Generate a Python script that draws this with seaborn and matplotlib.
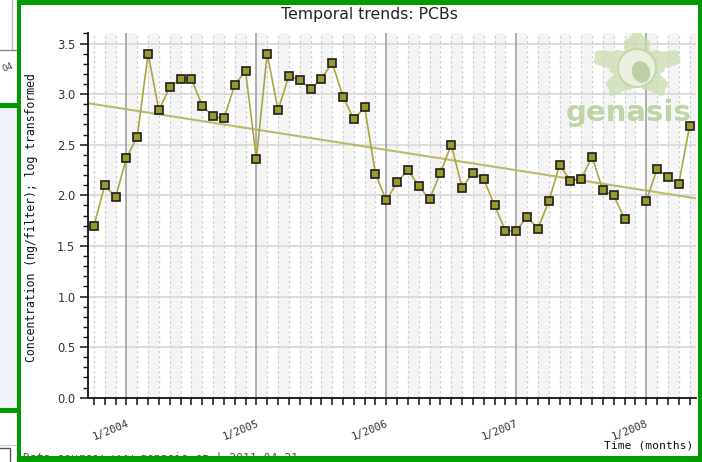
import numpy as np
import pandas as pd
import matplotlib
matplotlib.use("Agg")
import matplotlib.pyplot as plt
import seaborn as sns
from matplotlib.patches import Rectangle, Polygon, Circle, Ellipse
from matplotlib.ticker import MultipleLocator, FixedLocator

# ---------------- data ----------------
months = ["2003-10", "2003-11", "2003-12",
          "2004-01", "2004-02", "2004-03", "2004-04", "2004-05", "2004-06",
          "2004-07", "2004-08", "2004-09", "2004-10", "2004-11", "2004-12",
          "2005-01", "2005-02", "2005-03", "2005-04", "2005-05", "2005-06",
          "2005-07", "2005-08", "2005-09", "2005-10", "2005-11", "2005-12",
          "2006-01", "2006-02", "2006-03", "2006-04", "2006-05", "2006-06",
          "2006-07", "2006-08", "2006-09", "2006-10", "2006-11", "2006-12",
          "2007-01", "2007-02", "2007-03", "2007-04", "2007-05", "2007-06",
          "2007-07", "2007-08", "2007-09", "2007-10", "2007-11", "2007-12",
          "2008-01", "2008-02", "2008-03", "2008-04", "2008-05"]
pcb = [1.70, 2.10, 1.98,
       2.37, 2.58, 3.40, 2.84, 3.07, 3.15, 3.15, 2.885, 2.78, 2.76, 3.09, 3.23,
       2.36, 3.40, 2.84, 3.18, 3.14, 3.05, 3.15, 3.31, 2.975, 2.75, 2.87, 2.21,
       1.95, 2.13, 2.25, 2.09, 1.96, 2.225, 2.50, 2.075, 2.225, 2.16, 1.90, 1.65,
       1.65, 1.79, 1.67, 1.94, 2.30, 2.145, 2.16, 2.38, 2.05, 2.00, 1.77, np.nan,
       1.94, 2.26, 2.18, 2.11, 2.68]
trend_start = 2.91   # trend value at left edge of axis
trend_end = 1.97     # trend value at right edge of axis
year_labels = ["1/2004", "1/2005", "1/2006", "1/2007", "1/2008"]
title = "Temporal trends: PCBs"
ylabel = "Concentration (ng/filter); log transformed"
xlabel = "Time (months)"
source = "Data source: www.genasis.cz | 2011-04-21"

# ---------------- prep ----------------
per = pd.PeriodIndex(months, freq="M")
midx = (per.year - 2004) * 12 + (per.month - 1)
df = pd.DataFrame({"m": midx, "v": pcb})
df["seg"] = df["v"].isna().cumsum()
df = df.dropna()

XMIN, XMAX = -3.55, 52.6
trend_df = pd.DataFrame({"m": [XMIN, XMAX], "v": [trend_start, trend_end]})

sns.set_style("white")
plt.rcParams["font.family"] = ["DejaVu Sans"]

W, H = 702, 462
fig = plt.figure(figsize=(W / 100, H / 100), dpi=100)
fig.patch.set_facecolor("white")

L, R, T, B = 88, 696, 33.4, 397.7
ax = fig.add_axes([L / W, 1 - B / H, (R - L) / W, (B - T) / H])
ax.set_facecolor("white")
ax.set_xlim(XMIN, XMAX)
ax.set_ylim(0, 3.6)

# overlay in pixel coords
ov = fig.add_axes([0, 0, 1, 1], zorder=10)
ov.set_xlim(0, W)
ov.set_ylim(H, 0)
ov.axis("off")
ov.patch.set_alpha(0)

# background bands (alternate months)
for m in range(-2, 53, 2):
    ax.axvspan(m, m + 1, color="#f4f4f4", lw=0, zorder=0)
# monthly dashed grid
for m in range(-3, 53):
    if m % 12 == 0:
        ax.axvline(m, color="#9a9a9a", lw=1.1, zorder=0.6)
    else:
        ax.axvline(m, color="#cfcfcf", lw=0.9, ls=(0, (2, 2)), zorder=0.5)
for yv in np.arange(0.5, 3.6, 0.5):
    ax.axhline(yv, color="#dcdcdc", lw=1.4, zorder=0.4)

# logo watermark (pixel coords)
cx, cy = 637, 66
th = np.linspace(0, 2 * np.pi, 200)
r = 0.78 + 0.22 * np.cos(5 * (th - np.pi / 2)) + 0.05 * np.cos(17 * (th - np.pi / 2))
lx = cx + 46 * r * np.cos(th)
ly = cy - 34 * r * np.sin(th)
ax.add_patch(Polygon(np.c_[lx, ly], closed=True, transform=ov.transData,
                     facecolor="#c9dcb0", edgecolor="none", alpha=0.75, zorder=1))
ax.add_patch(Circle((cx, cy + 2), 19, transform=ov.transData, facecolor="#eef3e2",
                    edgecolor="#c2d4a8", lw=1.5, alpha=0.9, zorder=1.1))
ax.add_patch(Ellipse((cx + 4, cy + 6), 18, 22, angle=-20, transform=ov.transData,
                     facecolor="#b3c69a", edgecolor="none", alpha=0.8, zorder=1.2))
ax.text(629, 113, "genasis", transform=ov.transData, fontsize=21, fontweight="bold",
        color="#b3cb95", alpha=0.8, ha="center", va="center", zorder=1.3)

# data
sns.lineplot(data=trend_df, x="m", y="v", ax=ax, color="#bdb96a", lw=1.5,
             zorder=2, legend=False)
sns.lineplot(data=df, x="m", y="v", units="seg", estimator=None, ax=ax,
             color="#aaa63e", lw=1.2, marker="s", markersize=6.2,
             markerfacecolor="#9a982e", markeredgecolor="#1e1e1e",
             markeredgewidth=1.2, zorder=3, legend=False)
ax.set_xlabel("")
ax.set_ylabel("")

# spines & ticks
for s in ["top", "right"]:
    ax.spines[s].set_visible(False)
for s in ["left", "bottom"]:
    ax.spines[s].set_color("#111111")
    ax.spines[s].set_linewidth(1.3)
    ax.spines[s].set_zorder(4)

ax.yaxis.set_major_locator(MultipleLocator(0.5))
ax.yaxis.set_minor_locator(MultipleLocator(0.1))
ax.tick_params(axis="y", which="major", direction="out", length=6, width=1.1,
               color="#111111", labelsize=8.3, labelcolor="#333333", pad=3, left=True)
ax.tick_params(axis="y", which="minor", direction="out", length=3.5, width=1.0,
               color="#111111", left=True)
ax.set_yticks(np.arange(0, 3.6, 0.5))
ax.set_yticklabels([f"{v:.1f}" for v in np.arange(0, 3.6, 0.5)])

ax.xaxis.set_major_locator(FixedLocator([0, 12, 24, 36, 48]))
ax.xaxis.set_minor_locator(FixedLocator(list(range(-3, 53))))
ax.tick_params(axis="x", which="both", direction="out", length=5, width=1.1,
               color="#111111", bottom=True)
ax.set_xticks([0, 12, 24, 36, 48])
ax.set_xticklabels(year_labels, rotation=22, ha="right", va="top",
                   rotation_mode="anchor", fontsize=7.6, family="DejaVu Sans Mono",
                   color="#333333")
ax.tick_params(axis="x", which="major", pad=10)

# texts
ov.text(369, 14, title, fontsize=11.3, color="#222222", ha="center", va="center")
ov.text(32, 218, ylabel, rotation=90, fontsize=8.3, family="DejaVu Sans Mono",
        color="#111111", ha="center", va="center")
ov.text(693, 446, xlabel, fontsize=8.2, family="DejaVu Sans Mono",
        color="#111111", ha="right", va="center")
ov.text(23, 452, source, fontsize=8.3, family="DejaVu Sans Mono",
        color="#555555", ha="left", va="top", zorder=1)

# left strip (neighbouring panel remnants)
green = "#019a01"
ov.add_patch(Rectangle((0, 108), 16.7, 300, facecolor="#eef3fb", edgecolor="none"))
ov.plot([12, 12], [0, 50], color="#bbbbbb", lw=1)
ov.plot([0, 16], [50, 50], color="#888888", lw=1)
ov.text(1, 68, "04", fontsize=6.5, color="#444444", rotation=22, ha="left", va="center")
ov.add_patch(Rectangle((0, 103.3), 17, 5, facecolor=green, edgecolor="none"))
ov.add_patch(Rectangle((0, 408.3), 17, 5, facecolor=green, edgecolor="none"))
ov.plot([0, 16], [445, 445], color="#cccccc", lw=1)
ov.add_patch(Rectangle((-2, 448), 12, 20, facecolor="none", edgecolor="#555555", lw=1))

# green frame
ov.add_patch(Rectangle((16.7, 0), W - 16.7, 5, facecolor=green, edgecolor="none", zorder=20))
ov.add_patch(Rectangle((16.7, 0), 4, H, facecolor=green, edgecolor="none", zorder=20))
ov.add_patch(Rectangle((16.7, 455.7), W - 16.7, 7, facecolor=green, edgecolor="none", zorder=20))
ov.add_patch(Rectangle((697.5, 0), 5, H, facecolor=green, edgecolor="none", zorder=20))

fig.savefig("out.png", dpi=100)
